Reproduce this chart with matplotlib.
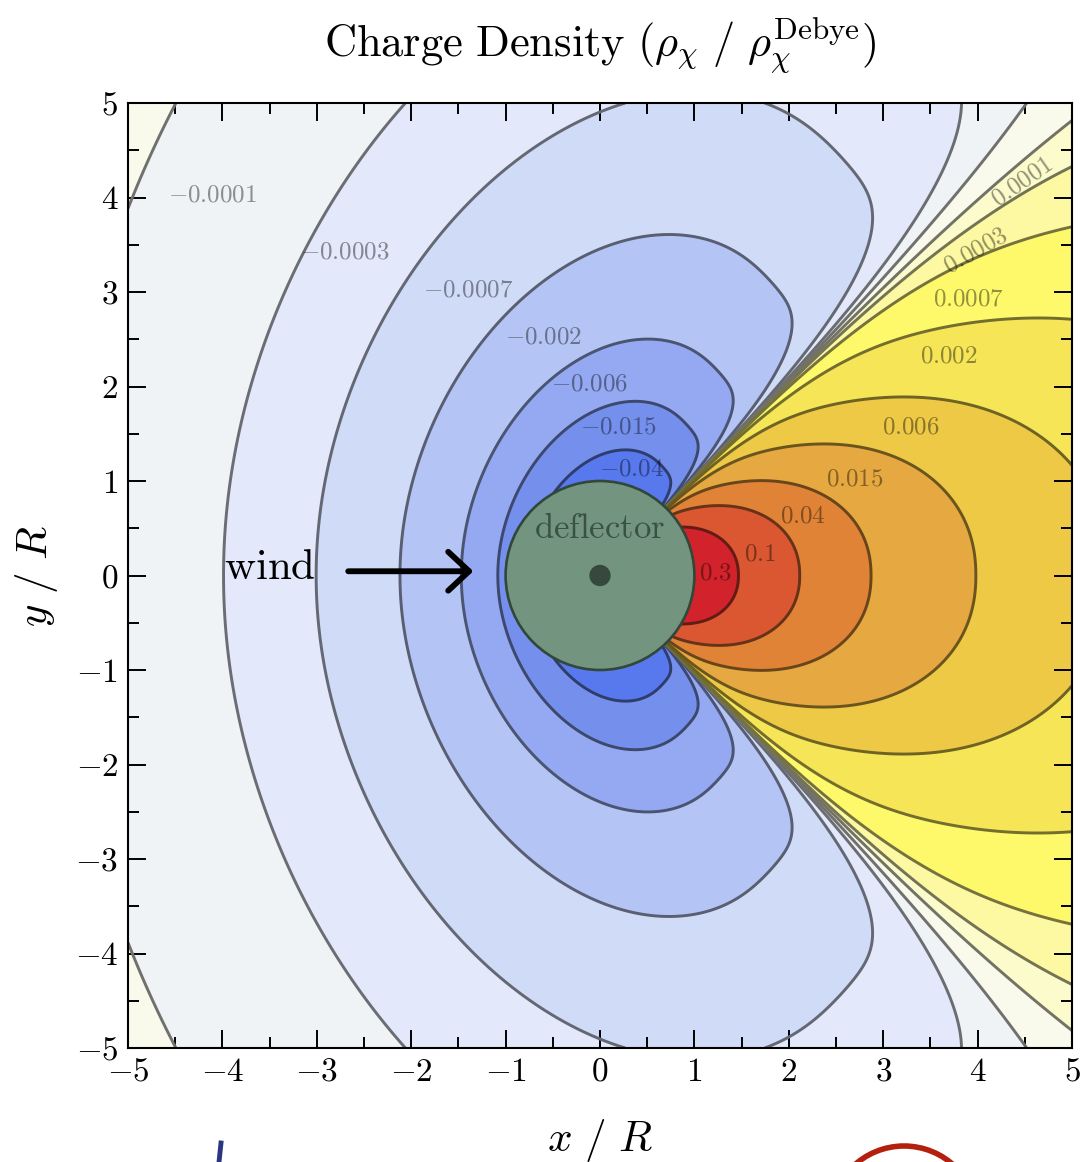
import numpy as np
import matplotlib
matplotlib.use("Agg")
import matplotlib.pyplot as plt
from matplotlib.patches import Circle, Arc
from matplotlib.colors import ListedColormap, BoundaryNorm, to_rgb

plt.rcParams["mathtext.fontset"] = "cm"
plt.rcParams["axes.formatter.use_mathtext"] = True
plt.rcParams["font.family"] = ["cmr10", "DejaVu Serif"]

# ---- contour levels of rho_chi / rho_chi^Debye ----
neg_levels = [-0.04, -0.015, -0.006, -0.002, -0.0007, -0.0003, -0.0001]
pos_levels = [0.0001, 0.0003, 0.0007, 0.002, 0.006, 0.015, 0.04, 0.1, 0.3]

# fill colour of each band, from the most negative to the most positive
band_colors = ["#5879ee", "#7590ec", "#94a9f1", "#b4c4f5", "#d0dbf8", "#e3e8fa",
               "#f0f3f5", "#f9faeb", "#fcfbcc", "#fdf8a2", "#fef86b", "#f5e557",
               "#edc946", "#e6a840", "#e08336", "#da5731", "#d2222b"]

# band labels and where they sit (x/R, y/R, rotation)
label_texts = ["-0.0001", "-0.0003", "-0.0007", "-0.002", "-0.006", "-0.015", "-0.04",
               "0.3", "0.1", "0.04", "0.015", "0.006", "0.002", "0.0007", "0.0003", "0.0001"]
label_x = [-4.10, -2.70, -1.40, -0.60, -0.11, 0.20, 0.33,
           1.22, 1.69, 2.15, 2.70, 3.29, 3.69, 3.90, 3.99, 4.48]
label_y = [4.02, 3.42, 3.02, 2.52, 2.02, 1.57, 1.12,
           0.02, 0.22, 0.62, 1.02, 1.57, 2.32, 2.92, 3.43, 4.16]
label_rot = [0, 0, 0, 0, 0, 0, 0, 0, 0, 0, 0, 0, 0, 0, 30, 35]

# ---- model of the induced charge density around the deflector ----
# rho(r, theta) = g(theta) / r^3 : forward wake lobe, a broad depletion,
# and a sharpened sign change along the edge of the wake cone
WAKE_AMP, WAKE_WIDTH, WAKE_SHAPE = 0.984, 30.5, 2.3          # deg
DEPL_BASE, DEPL_AMP, DEPL_CENTER, DEPL_WIDTH = 0.0142, 0.09, 70.0, 25.5
EDGE_AMP, EDGE_ANGLE, EDGE_WIDTH = 0.04, 46.0, 8.0
RADIAL_POWER = 3.0


def angular_profile(theta_deg):
    wake = WAKE_AMP * np.exp(-(theta_deg / WAKE_WIDTH) ** WAKE_SHAPE)
    # depletion peak, mirrored so the profile is smooth across both axes
    centers = [DEPL_CENTER, -DEPL_CENTER, 360.0 - DEPL_CENTER]
    depl = DEPL_BASE + sum(DEPL_AMP / np.cosh((theta_deg - c) / DEPL_WIDTH)
                           for c in centers)
    u = (EDGE_ANGLE - theta_deg) / EDGE_WIDTH
    edge = EDGE_AMP * u * np.exp(-u ** 2)
    return wake - depl + edge


x = np.linspace(-5, 5, 1001)
y = np.linspace(-5, 5, 1001)
X, Y = np.meshgrid(x, y)
R = np.maximum(np.hypot(X, Y), 0.6)
TH = np.degrees(np.abs(np.arctan2(Y, X)))
rho = angular_profile(TH) / R ** RADIAL_POWER

levels = neg_levels + pos_levels
bounds = [-10.0] + levels + [10.0]

# each contour line is a darkened blend of the two bands it separates
rgb = [np.array(to_rgb(c)) for c in band_colors]
line_colors = [tuple(0.46 * 0.5 * (rgb[i] + rgb[i + 1])) for i in range(len(levels))]

fig = plt.figure(figsize=(10.8, 11.62), dpi=100)
ax = fig.add_axes([128 / 1080, 1 - 1048 / 1162, 944 / 1080, 945 / 1162])

cmap = ListedColormap(band_colors)
norm = BoundaryNorm(bounds, cmap.N)
ax.contourf(X, Y, rho, levels=bounds, cmap=cmap, norm=norm)
ax.contour(X, Y, rho, levels=levels, colors=line_colors, linewidths=2.1,
           linestyles="solid")

for t, lx, ly, rot in zip(label_texts, label_x, label_y, label_rot):
    ax.text(lx, ly, "$" + t + "$", fontsize=18, color="k", alpha=0.42,
            ha="center", va="center", rotation=rot, zorder=5)

# deflector body
ax.add_patch(Circle((0, 0), 1.0, facecolor="#739580", edgecolor="#30473a",
                    linewidth=1.9, zorder=6))
ax.add_patch(Circle((0, 0), 0.113, facecolor="#36493c", edgecolor="none", zorder=7))
ax.text(0.0, 0.40, r"$\mathrm{deflector}$", fontsize=25, color="#3a5244",
        ha="center", va="baseline", zorder=8)

# incoming wind
ax.text(-3.495, -0.035, r"$\mathrm{wind}$", fontsize=31, color="k",
        ha="center", va="baseline", zorder=8)
ax.annotate("", xy=(-1.342, 0.045), xytext=(-2.667, 0.045),
            arrowprops=dict(arrowstyle="->,head_length=0.75,head_width=0.7",
                            mutation_scale=20, lw=4.2, color="k",
                            shrinkA=0, shrinkB=0), zorder=8)

ax.set_xlim(-5, 5)
ax.set_ylim(-5, 5)
ax.set_xticks(np.arange(-5, 6, 1))
ax.set_yticks(np.arange(-5, 6, 1))
ax.set_xticks(np.arange(-4.5, 5, 1), minor=True)
ax.set_yticks(np.arange(-4.5, 5, 1), minor=True)
ax.tick_params(which="both", direction="in", top=True, right=True, width=1.4,
               labelsize=24, pad=7)
ax.tick_params(which="major", length=13)
ax.tick_params(which="minor", length=8)
for s in ax.spines.values():
    s.set_linewidth(1.5)

ax.set_xlabel(r"$x\ /\ R$", fontsize=31)
ax.set_ylabel(r"$y\ /\ R$", fontsize=31)
ax.xaxis.set_label_coords(0.5, -0.073)
ax.yaxis.set_label_coords(-0.072, 0.5)

fig.text(600 / 1080, 1 - 45 / 1162,
         r"$\mathrm{Charge\ Density}\ (\rho_\chi\ /\ \rho_\chi^{\mathrm{Debye}})$",
         fontsize=32, ha="center", va="center")

# fragments of the neighbouring panel along the lower edge
fig.add_artist(plt.Line2D([221 / 1080, 219 / 1080], [1 - 1143 / 1162, 0.0],
                          color="#2b3580", lw=3.5))
fig.add_artist(Arc((904 / 1080, 1 - 1220 / 1162), 148 / 1080, 148 / 1162,
                   theta1=0, theta2=180, color="#b3200e", lw=4))

fig.savefig("out.png", dpi=100)
